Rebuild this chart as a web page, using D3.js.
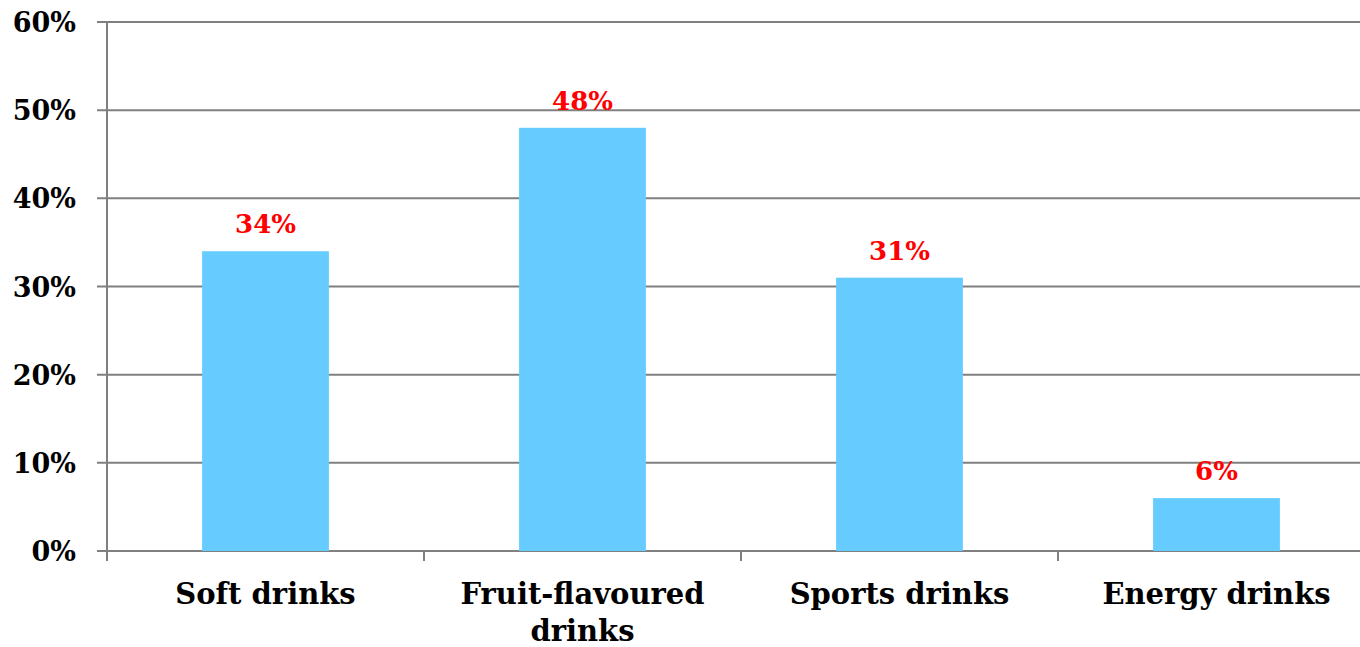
<!DOCTYPE html>
<html>
<head>
<meta charset="utf-8">
<script src="https://d3js.org/d3.v7.min.js"></script>
<style>
  html, body { margin: 0; padding: 0; background: #fff; }
  svg { display: block; }
  text { font-family: "DejaVu Serif", "Liberation Serif", serif; font-weight: bold; }
</style>
</head>
<body>
<svg id="chart" width="1360" height="647"></svg>
<script>
// Share of respondents by drink type
const categories = [["Soft drinks"], ["Fruit-flavoured", "drinks"], ["Sports drinks"], ["Energy drinks"]];
const values = [34, 48, 31, 6];
const yTicks = [0, 10, 20, 30, 40, 50, 60];

const svg = d3.select("#chart");
const margin = { left: 107, top: 22, right: -15, bottom: 96 };
const W = 1360, H = 647;

const x = d3.scaleBand()
  .domain(d3.range(categories.length))
  .range([margin.left, W - margin.right])
  .paddingInner(0.6)
  .paddingOuter(0.3);

const xOuter = d3.scaleBand()
  .domain(d3.range(categories.length))
  .range([margin.left, W - margin.right]);

const y = d3.scaleLinear().domain([0, 60]).range([H - margin.bottom, margin.top]);

const axisColor = "#808080";

// horizontal gridlines with short outward ticks
svg.append("g")
  .selectAll("line")
  .data(yTicks)
  .join("line")
  .attr("x1", margin.left - 10)
  .attr("x2", W)
  .attr("y1", d => y(d))
  .attr("y2", d => y(d))
  .attr("stroke", axisColor)
  .attr("stroke-width", 2);

// y axis line
svg.append("line")
  .attr("x1", margin.left).attr("x2", margin.left)
  .attr("y1", y(60)).attr("y2", y(0) + 10)
  .attr("stroke", axisColor).attr("stroke-width", 2);

// category separator ticks
svg.append("g")
  .selectAll("line")
  .data(d3.range(1, categories.length))
  .join("line")
  .attr("x1", d => xOuter(d)).attr("x2", d => xOuter(d))
  .attr("y1", y(0)).attr("y2", y(0) + 10)
  .attr("stroke", axisColor).attr("stroke-width", 2);

// y tick labels
svg.append("g")
  .selectAll("text")
  .data(yTicks)
  .join("text")
  .attr("x", 76)
  .attr("y", d => y(d) + 10)
  .attr("text-anchor", "end")
  .attr("font-size", 27)
  .attr("fill", "#000")
  .text(d => d + "%");

// bars
svg.append("g")
  .selectAll("rect")
  .data(values)
  .join("rect")
  .attr("x", (d, i) => x(i))
  .attr("width", x.bandwidth())
  .attr("y", d => y(d))
  .attr("height", d => y(0) - y(d))
  .attr("fill", "#66CCFF");

// value labels
svg.append("g")
  .selectAll("text")
  .data(values)
  .join("text")
  .attr("x", (d, i) => x(i) + x.bandwidth() / 2)
  .attr("y", d => y(d) - 18)
  .attr("text-anchor", "middle")
  .attr("font-size", 26)
  .attr("fill", "#FF0000")
  .text(d => d + "%");

// category labels
const cat = svg.append("g")
  .selectAll("text")
  .data(categories)
  .join("text")
  .attr("x", (d, i) => xOuter(i) + xOuter.bandwidth() / 2)
  .attr("y", 604)
  .attr("text-anchor", "middle")
  .attr("font-size", 29)
  .attr("fill", "#000");

cat.selectAll("tspan")
  .data(d => d)
  .join("tspan")
  .attr("x", function () { return d3.select(this.parentNode).attr("x"); })
  .attr("dy", (d, i) => i === 0 ? 0 : 37)
  .text(d => d);
</script>
</body>
</html>
